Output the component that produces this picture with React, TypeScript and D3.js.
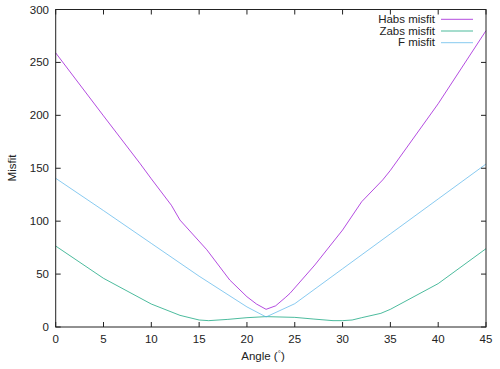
import React from "react";
import * as d3 from "d3";

const angles = [0, 5, 8.8, 10, 12.1, 13, 15.8, 18.2, 20, 21, 22, 23, 24, 24.5, 27.1, 30, 32, 34.2, 35, 40, 45];
const habsMisfit = [259, 199.5, 154.7, 140, 115, 101, 73, 44.4, 28.6, 21.7, 16.7, 20, 27.7, 31.8, 58.6, 91.6, 118.4, 139, 148, 211, 280];

const zabsAngles = [0, 5, 10, 13, 15, 16, 18, 20, 22, 25, 27, 29, 30, 31, 32, 34, 35, 40, 45];
const zabsMisfit = [76.5, 46, 21.7, 11, 6.6, 6, 7.2, 8.8, 9.8, 9.1, 7.5, 6, 6, 6.6, 8.8, 12.9, 16.7, 41, 74];

const fAngles = [0, 5, 10, 15, 20, 22, 25, 30, 35, 40, 45];
const fMisfit = [140.5, 110, 79, 48, 19, 9.5, 22, 55, 88, 121, 154];

const xTicks = [0, 5, 10, 15, 20, 25, 30, 35, 40, 45];
const yTicks = [0, 50, 100, 150, 200, 250, 300];

const seriesNames = ["Habs misfit", "Zabs misfit", "F misfit"];
const seriesColors = ["#9400d3", "#009e73", "#56b4e9"];

export default function App() {
  const W = 500, H = 369;
  const left = 55.7, right = 486, top = 9.5, bottom = 327;
  const x = d3.scaleLinear().domain([0, 45]).range([left, right]);
  const y = d3.scaleLinear().domain([0, 300]).range([bottom, top]);
  const line = d3.line<[number, number]>().x(d => x(d[0])).y(d => y(d[1]));
  const series: [number, number][][] = [
    angles.map((a, i) => [a, habsMisfit[i]]),
    zabsAngles.map((a, i) => [a, zabsMisfit[i]]),
    fAngles.map((a, i) => [a, fMisfit[i]]),
  ];
  const font = "'Liberation Sans', Arial, sans-serif";
  const fs = 11.5;
  const tl = 5;
  return (
    <svg width={W} height={H} style={{ position: "absolute", left: 0, top: 0 }} fontFamily={font} fontSize={fs}>
      <rect width={W} height={H} fill="#fff" />
      {series.map((s, i) => (
        <path key={i} d={line(s) || ""} fill="none" stroke={seriesColors[i]} strokeWidth={1} opacity={0.7} />
      ))}
      <rect x={left} y={top} width={right - left} height={bottom - top} fill="none" stroke="#222" strokeWidth={1} />
      {xTicks.map(t => (
        <g key={"x" + t}>
          <line x1={x(t)} x2={x(t)} y1={bottom} y2={bottom - tl} stroke="#222" />
          <line x1={x(t)} x2={x(t)} y1={top} y2={top + tl} stroke="#222" />
          <text x={x(t)} y={343} textAnchor="middle" fill="#222">{t}</text>
        </g>
      ))}
      {yTicks.map(t => (
        <g key={"y" + t}>
          <line x1={left} x2={left + tl} y1={y(t)} y2={y(t)} stroke="#222" />
          <line x1={right} x2={right - tl} y1={y(t)} y2={y(t)} stroke="#222" />
          <text x={49} y={y(t) + 4} textAnchor="end" fill="#222">{t}</text>
        </g>
      ))}
      <text x={263} y={360} textAnchor="middle" fill="#222">Angle (<tspan dy={-4} fontSize={8}>°</tspan><tspan dy={4}>)</tspan></text>
      <text transform={`translate(16,${168}) rotate(-90)`} textAnchor="middle" fill="#222">Misfit</text>
      {seriesNames.map((n, i) => (
        <g key={n}>
          <text x={435} y={23 + i * 11.7} textAnchor="end" fill="#222">{n}</text>
          <line x1={441} x2={473} y1={19.3 + i * 11.7} y2={19.3 + i * 11.7} stroke={seriesColors[i]} opacity={0.7} />
        </g>
      ))}
    </svg>
  );
}
